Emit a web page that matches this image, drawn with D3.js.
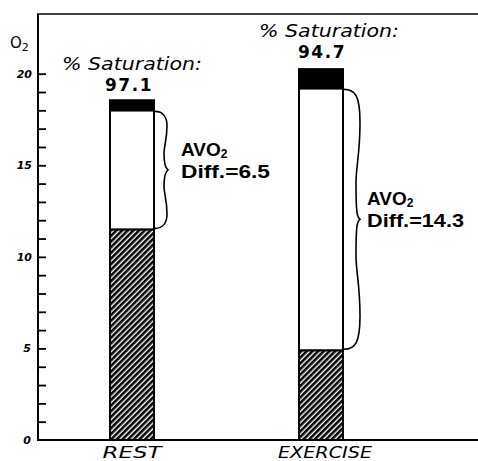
<!DOCTYPE html>
<html>
<head>
<meta charset="utf-8">
<script src="https://cdn.jsdelivr.net/npm/d3@7"></script>
<style>
  html, body { margin: 0; padding: 0; background: #fff; }
  svg { display: block; }
</style>
</head>
<body>
<svg id="chart" width="478" height="461"></svg>
<script>
// ---- data ----
const categories = ["REST", "EXERCISE"];
const venousO2 = [11.5, 4.9];      // hatched (venous O2 content)
const arterialO2 = [18.0, 19.2];   // top of white section (arterial O2 content)
const capacityO2 = [18.55, 20.25]; // top of black section (O2 capacity)
const saturationLabels = ["97.1", "94.7"];
const avo2DiffLabels = ["6.5", "14.3"];
const yTicks = [0, 5, 10, 15, 20];
const yMinorTicks = d3.range(0, 21, 1);

(function () {
// ---- layout ----
const svg = d3.select("#chart");
const mLeft = 38, mRight = 478, mTop = 14, mBottom = 440;
const y = d3.scaleLinear().domain([0, 20]).range([mBottom, 73.7]);
const x = d3.scalePoint().domain(categories).range([37.5, 415.5]).padding(0.5);
const barW = 44;

// hatch pattern
const defs = svg.append("defs");
const pat = defs.append("pattern")
  .attr("id", "hatch").attr("patternUnits", "userSpaceOnUse")
  .attr("width", 4).attr("height", 4)
  .attr("patternTransform", "rotate(45)");
pat.append("rect").attr("width", 4).attr("height", 4).attr("fill", "#fff");
pat.append("rect").attr("x", 0).attr("y", 0).attr("width", 2.6).attr("height", 4).attr("fill", "#000");

// frame lines
const ink = "#000";
svg.append("line").attr("x1", mLeft).attr("x2", mLeft).attr("y1", mTop).attr("y2", mBottom)
  .attr("stroke", ink).attr("stroke-width", 2);
svg.append("line").attr("x1", mLeft - 1).attr("x2", mRight).attr("y1", mTop).attr("y2", mTop)
  .attr("stroke", ink).attr("stroke-width", 1.5);
svg.append("line").attr("x1", mLeft - 1).attr("x2", mRight).attr("y1", mBottom).attr("y2", mBottom)
  .attr("stroke", ink).attr("stroke-width", 2);

// y axis ticks (inward)
const yAxis = d3.axisRight(y).tickValues(yMinorTicks).tickSize(8).tickFormat("");
const gy = svg.append("g").attr("transform", `translate(${mLeft},0)`).call(yAxis);
gy.select(".domain").remove();
gy.selectAll(".tick line").attr("stroke", ink).attr("stroke-width", 1.8);
gy.selectAll(".tick").filter(d => d === 0).remove();

// y tick labels
svg.append("g").selectAll("text").data(yTicks).join("text")
  .attr("x", d => d >= 10 ? 32 : 31)
  .attr("y", d => y(d) + 4)
  .attr("text-anchor", "end")
  .attr("font-family", "DejaVu Sans, sans-serif")
  .attr("font-style", "italic").attr("font-weight", "bold")
  .attr("font-size", 11)
  .text(d => d);

// O2 label
const o2 = svg.append("text").attr("x", 10).attr("y", 48)
  .attr("font-family", "DejaVu Sans, sans-serif").attr("font-size", 15).attr("fill", ink);
o2.append("tspan").text("O");
o2.append("tspan").attr("font-size", 11).attr("dy", 3).text("2");

// bars
const bars = svg.append("g");
categories.forEach((c, i) => {
  const bx = x(c) - barW / 2;
  bars.append("rect").attr("x", bx).attr("y", y(venousO2[i]))
    .attr("width", barW).attr("height", y(0) - y(venousO2[i]))
    .attr("fill", "url(#hatch)").attr("stroke", ink).attr("stroke-width", 2);
  bars.append("rect").attr("x", bx).attr("y", y(arterialO2[i]))
    .attr("width", barW).attr("height", y(venousO2[i]) - y(arterialO2[i]))
    .attr("fill", "#fff").attr("stroke", ink).attr("stroke-width", 2);
  bars.append("rect").attr("x", bx).attr("y", y(capacityO2[i]))
    .attr("width", barW).attr("height", y(arterialO2[i]) - y(capacityO2[i]))
    .attr("fill", ink).attr("stroke", ink).attr("stroke-width", 2);
});

// braces
function bracePath(bx, yT, yB, bulge, line, cusp) {
  const h = yB - yT, ym = (yT + yB) / 2;
  return `M${bx + 1},${yT + 1}` +
    ` C${bx + bulge * 0.7},${yT + 1} ${bx + bulge},${yT + 7} ${bx + bulge},${yT + h * 0.13}` +
    ` C${bx + bulge},${yT + h * 0.25} ${bx + line},${yT + h * 0.3} ${bx + line},${ym - h * 0.14}` +
    ` C${bx + line},${ym - 6} ${bx + line + 1},${ym - 2} ${bx + cusp},${ym}` +
    ` C${bx + line + 1},${ym + 2} ${bx + line},${ym + 6} ${bx + line},${ym + h * 0.14}` +
    ` C${bx + line},${yB - h * 0.3} ${bx + bulge},${yB - h * 0.25} ${bx + bulge},${yB - h * 0.13}` +
    ` C${bx + bulge},${yB - 7} ${bx + bulge * 0.7},${yB - 1} ${bx + 1},${yB - 1}`;
}
const braceDims = [[13, 10, 14], [17, 13, 17]];
const textOff = [27, 24];
const diffW = [89, 97];
categories.forEach((c, i) => {
  const bx = x(c) + barW / 2;
  svg.append("path")
    .attr("d", bracePath(bx, y(arterialO2[i]), y(venousO2[i]), ...braceDims[i]))
    .attr("fill", "none").attr("stroke", ink).attr("stroke-width", 1.6);
  const ym = (y(arterialO2[i]) + y(venousO2[i])) / 2;
  const tx = bx + textOff[i];
  const t1 = svg.append("text").attr("x", tx).attr("y", ym - 14)
    .attr("font-family", "Liberation Sans, Arial, sans-serif").attr("font-weight", "bold")
    .attr("font-size", 19).attr("fill", ink);
  t1.append("tspan").text("AVO");
  t1.append("tspan").attr("font-size", 12).attr("dy", 2).text("2");
  svg.append("text").attr("x", tx).attr("y", ym + 8)
    .attr("font-family", "Liberation Sans, Arial, sans-serif").attr("font-weight", "bold")
    .attr("font-size", 19).attr("fill", ink)
    .attr("textLength", diffW[i]).attr("lengthAdjust", "spacingAndGlyphs")
    .text("Diff.=" + avo2DiffLabels[i]);
});

// saturation labels
const satX = [132, 329];
const satY = [70, 37];
const numX = [129, 322];
categories.forEach((c, i) => {
  svg.append("text").attr("x", satX[i]).attr("y", satY[i])
    .attr("text-anchor", "middle")
    .attr("font-family", "DejaVu Sans, sans-serif").attr("font-style", "italic")
    .attr("font-size", 18).attr("textLength", 140).attr("lengthAdjust", "spacingAndGlyphs")
    .attr("fill", ink)
    .text("% Saturation:");
  svg.append("text").attr("x", numX[i]).attr("y", satY[i] + 21)
    .attr("text-anchor", "middle")
    .attr("font-family", "DejaVu Sans, sans-serif").attr("font-weight", "bold")
    .attr("font-size", 17).attr("letter-spacing", 1.5).attr("fill", ink)
    .text(saturationLabels[i]);
});

// category labels
const catW = { "REST": 59, "EXERCISE": 94 };
const catOffset = { "REST": 0, "EXERCISE": 4 };
svg.append("g").selectAll("text").data(categories).join("text")
  .attr("x", d => x(d) + catOffset[d])
  .attr("y", 458)
  .attr("text-anchor", "middle")
  .attr("font-family", "DejaVu Sans, sans-serif").attr("font-style", "italic")
  .attr("font-size", 16).attr("textLength", d => catW[d]).attr("lengthAdjust", "spacingAndGlyphs")
  .attr("fill", ink)
  .text(d => d);
})();
</script>
</body>
</html>
